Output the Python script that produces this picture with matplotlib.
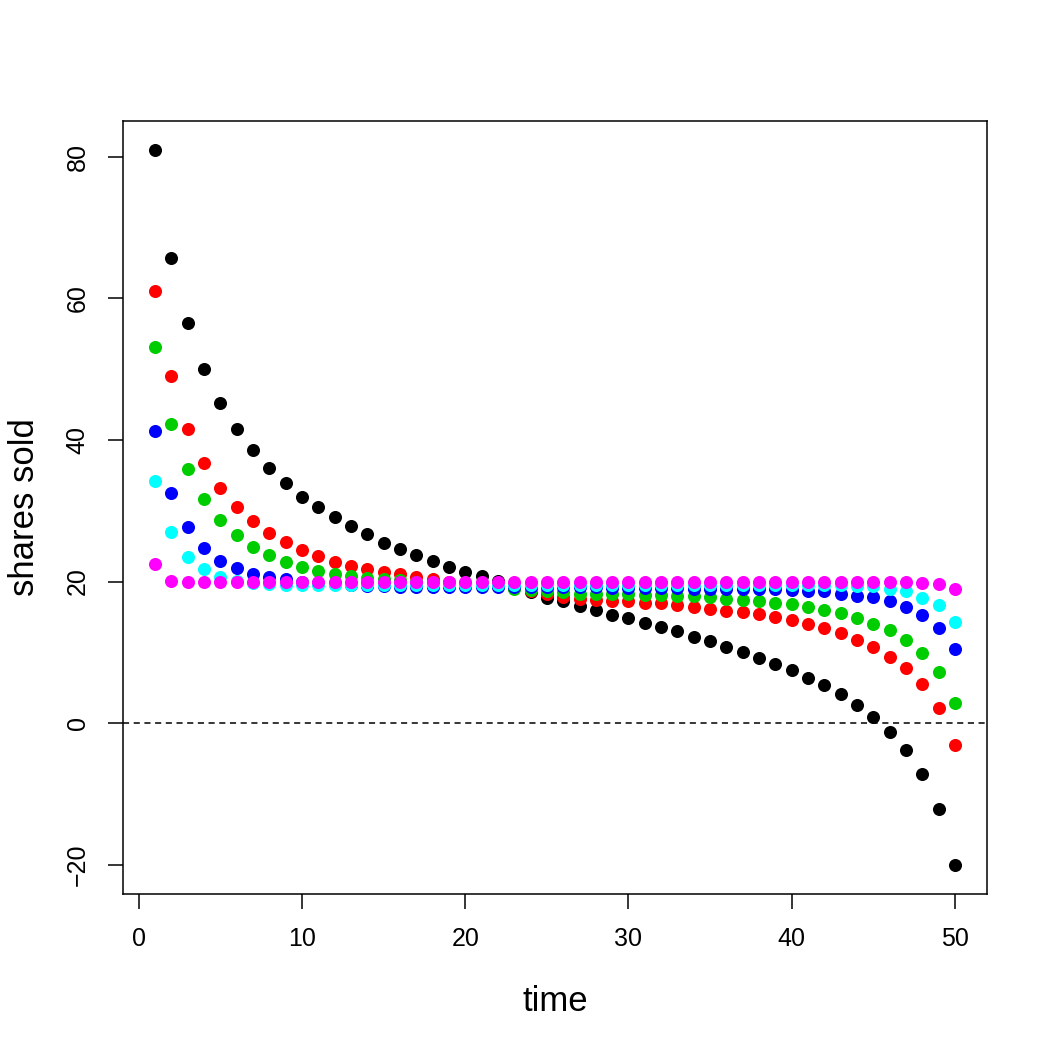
import matplotlib
matplotlib.use("Agg")
import matplotlib.pyplot as plt
import numpy as np

plt.rcParams['font.family'] = ['Liberation Sans', 'DejaVu Sans']

time = list(range(1, 51))

black = [81.0, 65.7, 56.5, 50.0, 45.2, 41.5, 38.6, 36.0, 33.9, 32.0,
         30.5, 29.1, 27.8, 26.7, 25.5, 24.6, 23.8, 22.9, 22.1, 21.4,
         20.8, 20.1, 19.3, 18.5, 17.7, 17.2, 16.6, 16.0, 15.3, 14.8,
         14.2, 13.6, 13.0, 12.2, 11.6, 10.8, 10.0, 9.2, 8.4, 7.5,
         6.4, 5.4, 4.1, 2.6, 0.9, -1.2, -3.8, -7.2, -12.2, -20.1]

red = [61.1, 49.0, 41.6, 36.7, 33.2, 30.5, 28.5, 26.9, 25.6, 24.5,
       23.6, 22.8, 22.2, 21.7, 21.3, 21.0, 20.6, 20.3, 20.0, 19.8,
       19.6, 19.4, 19.1, 18.6, 18.2, 17.8, 17.6, 17.4, 17.3, 17.2,
       17.0, 16.9, 16.7, 16.4, 16.1, 15.9, 15.7, 15.4, 15.0, 14.5,
       14.0, 13.4, 12.7, 11.8, 10.7, 9.4, 7.8, 5.5, 2.2, -3.1]

green = [53.1, 42.3, 35.9, 31.6, 28.7, 26.6, 24.9, 23.8, 22.8, 22.0,
         21.5, 21.1, 20.8, 20.5, 20.3, 20.2, 20.0, 19.9, 19.7, 19.6,
         19.5, 19.3, 19.0, 18.8, 18.6, 18.5, 18.3, 18.3, 18.2, 18.2,
         18.1, 18.1, 18.0, 17.9, 17.8, 17.6, 17.4, 17.2, 17.0, 16.8,
         16.4, 16.0, 15.5, 14.9, 14.0, 13.2, 11.7, 9.9, 7.2, 2.9]

blue = [41.2, 32.5, 27.7, 24.7, 22.9, 21.9, 21.1, 20.6, 20.3, 20.0,
        19.8, 19.6, 19.5, 19.4, 19.3, 19.2, 19.2, 19.2, 19.2, 19.2,
        19.2, 19.2, 19.2, 19.2, 19.2, 19.2, 19.2, 19.2, 19.1, 19.1,
        19.1, 19.1, 19.1, 19.0, 19.0, 19.0, 18.9, 18.9, 18.9, 18.8,
        18.7, 18.6, 18.3, 18.0, 17.8, 17.3, 16.4, 15.3, 13.5, 10.4]

cyan = [34.2, 27.0, 23.5, 21.7, 20.7, 20.1, 19.8, 19.6, 19.5, 19.5,
        19.5, 19.5, 19.5, 19.5, 19.5, 19.5, 19.5, 19.5, 19.5, 19.5,
        19.5, 19.5, 19.5, 19.5, 19.5, 19.5, 19.5, 19.5, 19.5, 19.5,
        19.5, 19.5, 19.5, 19.5, 19.5, 19.5, 19.5, 19.5, 19.5, 19.5,
        19.5, 19.5, 19.5, 19.4, 19.3, 19.0, 18.6, 17.7, 16.7, 14.3]

magenta = [22.5, 20.1, 19.9, 19.9, 19.9, 19.9, 19.9, 19.9, 19.9, 19.9,
           19.9, 19.9, 19.9, 19.9, 19.9, 19.9, 19.9, 19.9, 19.9, 19.9,
           19.9, 19.9, 19.9, 19.9, 19.9, 19.9, 19.9, 19.9, 19.9, 19.9,
           19.9, 19.9, 19.9, 19.9, 19.9, 19.9, 19.9, 19.9, 19.9, 19.9,
           19.9, 19.9, 19.9, 19.9, 19.9, 19.9, 19.9, 19.8, 19.7, 19.0]

series = [black, red, green, blue, cyan, magenta]
colors = ['#000000', '#FF0000', '#00CD00', '#0000FF', '#00FFFF', '#FF00FF']

fig = plt.figure(figsize=(10.48, 10.48), dpi=100)
ax = fig.add_axes([0.1174, 0.1469, 0.8244, 0.7376])

for ys, c in zip(series, colors):
    ax.plot(time, ys, linestyle='none', marker='o', ms=9.4, color=c,
            markeredgewidth=0)

ax.axhline(0, color='black', lw=1.1, linestyle=(0, (4, 3)))

# R style 4% padding
allv = np.concatenate([np.array(s) for s in series])
ymin, ymax = allv.min(), allv.max()
pad = 0.04 * (ymax - ymin)
ax.set_ylim(ymin - pad, ymax + pad)
xpad = 0.04 * (max(time) - min(time))
ax.set_xlim(min(time) - xpad, max(time) + xpad)

ax.set_xticks([0, 10, 20, 30, 40, 50])
ax.set_yticks([-20, 0, 20, 40, 60, 80])
ax.tick_params(labelsize=18, length=11, width=1.1, pad=13)
for lab in ax.get_yticklabels():
    lab.set_rotation(90)
    lab.set_va('center')

for sp in ax.spines.values():
    sp.set_linewidth(1.1)

ax.set_xlabel('time', fontsize=25, labelpad=24)
ax.set_ylabel('shares sold', fontsize=25, labelpad=18)

fig.savefig('out.png', dpi=100)
